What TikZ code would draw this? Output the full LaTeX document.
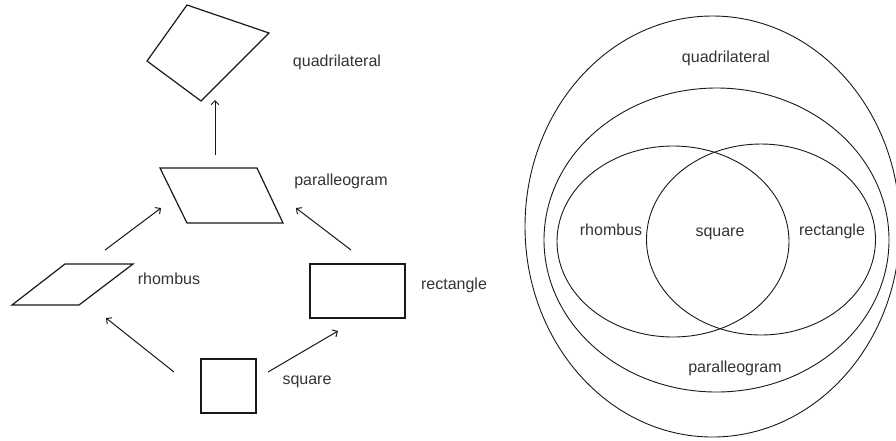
\documentclass[tikz,border=0pt]{standalone}
\usepackage{fontspec}
\setmainfont{Liberation Sans}
\usetikzlibrary{arrows.meta}

\tikzset{
  figline/.style={draw=black!90, line width=1.2pt},
  link/.style={draw=black!90, line width=1pt, -{Straight Barb[length=4pt,width=8pt]}},
  ring/.style={draw=black!90, line width=0.9pt},
  lbl/.style={text=black!80, font=\fontsize{16pt}{19pt}\selectfont, inner sep=0pt,
              text height=11.5pt, text depth=3.4pt},
}

\begin{document}
\begin{tikzpicture}[x=1pt, y=-1pt]
  \useasboundingbox (0,0) rectangle (896,440);

  % left: the figures
  \coordinate (Q1) at (187,5);   \coordinate (Q2) at (269,33);
  \coordinate (Q3) at (201,101); \coordinate (Q4) at (147,61);
  \coordinate (P1) at (160,168); \coordinate (P2) at (257,168);
  \coordinate (P3) at (283,223); \coordinate (P4) at (187,223);
  \coordinate (H1) at (65,264);  \coordinate (H2) at (133,264);
  \coordinate (H3) at (79,305);  \coordinate (H4) at (12,305);
  \coordinate (R1) at (310,264); \coordinate (R2) at (405,318);
  \coordinate (S1) at (201,359); \coordinate (S2) at (256,413);

  \draw[figline] (Q1) -- (Q2) -- (Q3) -- (Q4) -- cycle;
  \draw[figline] (P1) -- (P2) -- (P3) -- (P4) -- cycle;
  \draw[figline] (H1) -- (H2) -- (H3) -- (H4) -- cycle;
  \draw[figline] (R1) rectangle (R2);
  \draw[figline] (S1) rectangle (S2);

  \node[lbl] (quadL) at (337,62)  {quadrilateral};
  \node[lbl] (parL)  at (341,181) {paralleogram};
  \node[lbl] (rhoL)  at (169,280) {rhombus};
  \node[lbl] (recL)  at (454,285) {rectangle};
  \node[lbl] (sqL)   at (307,380) {square};

  % arrow ends
  \coordinate (pq0) at (215,155); \coordinate (pq1) at (215,100);
  \coordinate (hp0) at (105,250); \coordinate (hp1) at (161,208);
  \coordinate (sh0) at (174,372); \coordinate (sh1) at (106,318);
  \coordinate (sr0) at (268,372); \coordinate (sr1) at (338,331);
  \coordinate (rp0) at (351,250); \coordinate (rp1) at (296,208);

  \draw[link] (pq0) -- (pq1);
  \draw[link] (hp0) -- (hp1);
  \draw[link] (sh0) -- (sh1);
  \draw[link] (sr0) -- (sr1);
  \draw[link] (rp0) -- (rp1);

  % right: the sets
  \coordinate (cQ) at (712.5,226.5);
  \coordinate (cP) at (716.5,240);
  \coordinate (cH) at (673,241.5);
  \coordinate (cR) at (761,239.5);

  \draw[ring] (cQ) ellipse (187.5 and 210.5);
  \draw[ring] (cP) ellipse (172.5 and 152);
  \draw[ring] (cH) ellipse (116 and 95.5);
  \draw[ring] (cR) ellipse (114.5 and 95.5);

  \node[lbl] (quadR) at (726,58)  {quadrilateral};
  \node[lbl] (parR)  at (735,368) {paralleogram};
  \node[lbl] (rhoR)  at (611,231) {rhombus};
  \node[lbl] (sqR)   at (720,232) {square};
  \node[lbl] (recR)  at (832,231) {rectangle};
\end{tikzpicture}
\end{document}
